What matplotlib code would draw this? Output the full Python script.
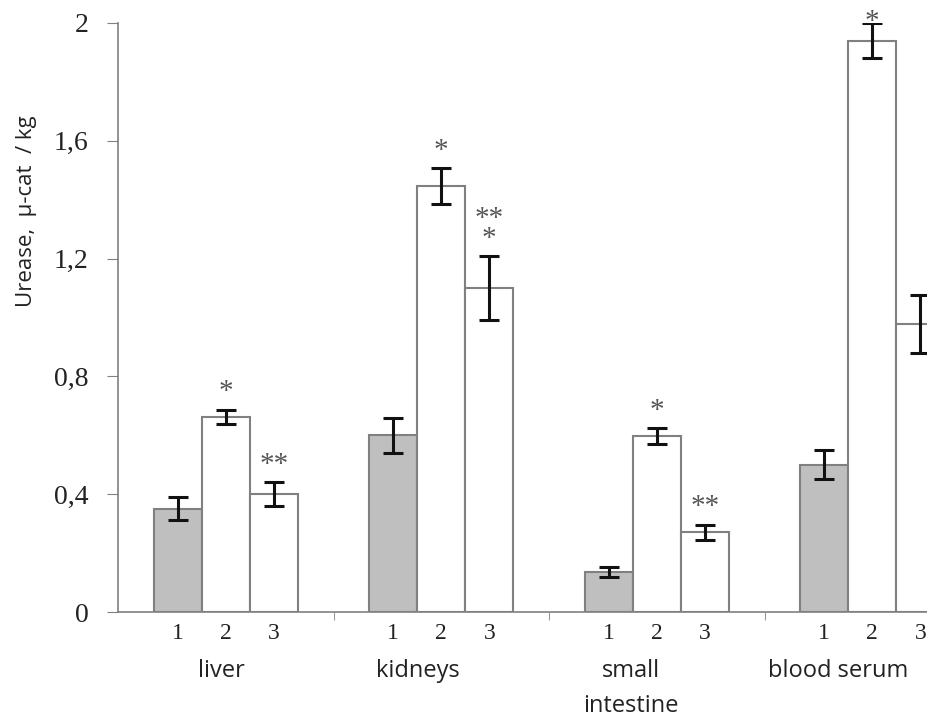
import numpy as np
import matplotlib.pyplot as plt
from matplotlib import transforms

# data
groups = ['liver', 'kidneys', 'small\nintestine', 'blood serum']
bar_labels = ['1', '2', '3']
vals_1 = [0.35, 0.60, 0.136, 0.50]
vals_2 = [0.662, 1.446, 0.598, 1.94]
vals_3 = [0.40, 1.10, 0.27, 0.978]
err_1 = [0.039, 0.06, 0.017, 0.05]
err_2 = [0.025, 0.06, 0.027, 0.06]
err_3 = [0.041, 0.108, 0.027, 0.098]
stars_2 = ['*', '*', '*', '*']
stars_3 = ['**', '**\n*', '**', '']

fig = plt.figure(figsize=(9.28, 7.23), dpi=100)
# axes wider than the figure: the last group is cut off like in the reference
ax = fig.add_axes([118 / 928, 111 / 723, 4 * 215.5 / 928, 589 / 723])

x = np.arange(len(groups))
w = 0.223
edge = '#808080'
fills = ['#bfbfbf', 'white', 'white']
all_vals = [vals_1, vals_2, vals_3]
all_err = [err_1, err_2, err_3]

for k in range(3):
    pos = x + (k - 1) * w
    ax.bar(pos, all_vals[k], width=w, color=fills[k], edgecolor=edge,
           linewidth=1.5, zorder=2)
    ax.errorbar(pos, all_vals[k], yerr=all_err[k], fmt='none', ecolor='#111111',
                elinewidth=2.2, capsize=7, capthick=2.2, zorder=3)

# significance marks
for i in range(len(groups)):
    for k, stars in [(1, stars_2), (2, stars_3)]:
        s = stars[i]
        if not s:
            continue
        top = all_vals[k][i] + all_err[k][i]
        y = min(top + 0.035, 1.98)
        ax.text(x[i] + (k - 1) * w, y, s, ha='center', va='baseline',
                fontsize=21, color='#555555', linespacing=0.7,
                family='Liberation Serif', clip_on=False)

ax.set_xlim(-0.5, 3.5)
ax.set_ylim(0, 2)
ax.set_yticks([0, 0.4, 0.8, 1.2, 1.6, 2])
ax.set_yticklabels(['0', '0,4', '0,8', '1,2', '1,6', '2'])

# bar numbers under each bar, separators between groups
pos_all = np.concatenate([x + (k - 1) * w for k in range(3)])
lab_all = [bar_labels[k] for k in range(3) for _ in x]
ax.set_xticks(pos_all)
ax.set_xticklabels(lab_all)
ax.set_xticks(np.arange(0.5, 4, 1), minor=True)
ax.tick_params(axis='x', which='major', length=0, pad=8, labelsize=17)
ax.tick_params(axis='x', which='minor', length=6, color=edge, direction='out')
ax.tick_params(axis='y', length=8, color=edge, labelsize=20, pad=13)
for lbl in ax.get_xticklabels() + ax.get_yticklabels():
    lbl.set_family('Liberation Serif')
    lbl.set_color('#222222')

# group names sit a bit left of the group centres in the reference
label_shift = [-0.02, -0.11, -0.12, -0.16]
trans = transforms.blended_transform_factory(ax.transData, ax.transAxes)
for i, g in enumerate(groups):
    ax.text(x[i] + label_shift[i], -0.08, g, transform=trans, ha='center',
            va='top', fontsize=17, family='Open Sans', color='#222222',
            linespacing=1.6)

ax.set_ylabel('Urease,  µ-cat  / kg', fontsize=16, family='Open Sans',
              color='#222222')
ax.yaxis.set_label_coords(-0.094, 0.68)

for side in ['top', 'right']:
    ax.spines[side].set_visible(False)
ax.spines['left'].set_color(edge)
ax.spines['bottom'].set_color(edge)
ax.spines['left'].set_linewidth(1.2)
ax.spines['bottom'].set_linewidth(1.2)

fig.savefig('out.png', dpi=100)
